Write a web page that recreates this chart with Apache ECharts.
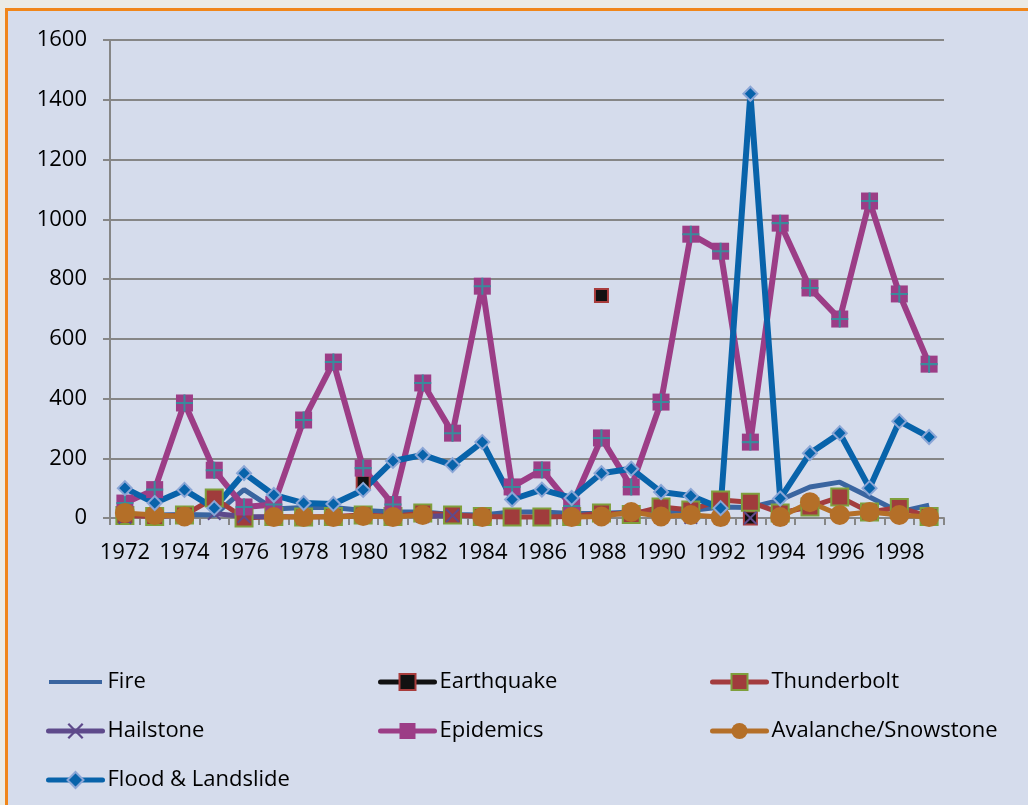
<!DOCTYPE html>
<html>
<head>
<meta charset="utf-8">
<script src="https://cdn.jsdelivr.net/npm/echarts@6/dist/echarts.min.js"></script>
<style>
  html, body { margin: 0; padding: 0; background: #ebebe5; }
  #chart { width: 1028px; height: 805px; }
</style>
</head>
<body>
<div id="chart"></div>
<script>
// years on the x axis
var years = ['1972','1973','1974','1975','1976','1977','1978','1979','1980','1981','1982','1983','1984','1985',
             '1986','1987','1988','1989','1990','1991','1992','1993','1994','1995','1996','1997','1998','1999']

// values (null = no point)
var fire        = [10,10,12,10,95,30,35,35,25,20,20,12,10,20,20,15,15,20,20,25,37,35,60,104,120,70,20,43]
var earthquake  = [null,null,null,null,null,null,null,null,120,null,null,null,null,null,
                   null,null,745,null,null,null,null,0,null,null,null,null,null,null]
var thunderbolt = [8,5,10,67,0,5,3,5,10,5,17,10,5,3,3,5,17,12,37,27,60,53,17,37,70,20,35,5]
var hailstone   = [2,null,null,15,5,3,null,null,null,null,5,8,null,null,
                   null,null,null,null,null,2,null,0,null,null,null,null,null,null]
var epidemics   = [50,95,385,160,37,45,328,522,167,45,452,284,776,104,161,40,268,104,388,950,893,254,987,770,666,1061,750,515]
var avalanche   = [17,10,5,null,null,3,3,3,7,3,10,null,3,null,null,3,5,20,5,10,3,null,3,53,10,20,10,3]
var flood       = [100,50,94,33,150,77,50,47,94,191,211,177,254,62,95,67,150,165,87,74,33,1420,65,217,284,100,324,271]

var yTicks = { min: 0, max: 1600, interval: 200 }

var chart = echarts.init(document.getElementById('chart'))

var font = 'Open Sans'
var legendText = { fontFamily: font, fontSize: 22, color: '#000', lineHeight: 26 }
var xShape = 'path://M0,1 L1,0 L5,4 L9,0 L10,1 L6,5 L10,9 L9,10 L5,6 L1,10 L0,9 L4,5 Z'
var plusShape = 'path://M4.4,0 H5.6 V4.4 H10 V5.6 H5.6 V10 H4.4 V5.6 H0 V4.4 H4.4 Z'
// plain bar for the legend of a series without markers (tiny specks keep the box tall)
var barIcon = 'path://M0,0 L0.1,0 L0.1,0.1 Z M0,8 L53,8 L53,12 L0,12 Z M0,20 L0.1,20 L0.1,19.9 Z'

function legend(left, names) {
  return {
    orient: 'vertical', left: left, top: 669, padding: 0,
    itemWidth: 54, itemHeight: 20, itemGap: 23,
    lineStyle: { width: 5, cap: 'round' },
    textStyle: legendText,
    data: names
  }
}

chart.setOption({
  backgroundColor: '#d5dcec',
  animation: false,
  graphic: [
    { type: 'rect', shape: { x: 0, y: 0, width: 1028, height: 9 }, style: { fill: '#ebebe5' }, silent: true },
    { type: 'rect', shape: { x: 0, y: 0, width: 5, height: 805 }, style: { fill: '#ebebe5' }, silent: true },
    { type: 'rect', shape: { x: 5, y: 8, width: 1023, height: 3 }, style: { fill: '#f0861a' }, silent: true },
    { type: 'rect', shape: { x: 5, y: 8, width: 3, height: 797 }, style: { fill: '#f0861a' }, silent: true }
  ],
  legend: [
    legend(46, [{ name: 'Fire', icon: barIcon }, 'Hailstone', 'Flood & Landslide']),
    legend(378, ['Earthquake', 'Epidemics']),
    legend(710, ['Thunderbolt', 'Avalanche/Snowstone'])
  ],
  grid: { left: 110, right: 84, top: 40, bottom: 287 },
  xAxis: {
    type: 'category',
    data: years,
    boundaryGap: true,
    axisLine: { lineStyle: { color: '#868686', width: 2 } },
    axisTick: { show: true, interval: 0, length: 7, lineStyle: { color: '#868686', width: 2 } },
    axisLabel: { interval: 1, color: '#000', fontFamily: font, fontSize: 22, margin: 24 },
    splitLine: { show: false }
  },
  yAxis: {
    type: 'value',
    min: yTicks.min, max: yTicks.max, interval: yTicks.interval,
    axisLine: { show: true, lineStyle: { color: '#868686', width: 2 } },
    axisTick: { show: true, length: 7, lineStyle: { color: '#868686', width: 2 } },
    axisLabel: { color: '#000', fontFamily: font, fontSize: 22, margin: 23,
                 formatter: function (v) { return String(v) } },
    splitLine: { lineStyle: { color: '#868686', width: 2 } }
  },
  series: [
    {
      name: 'Fire', type: 'line', data: fire,
      symbol: 'none',
      lineStyle: { color: '#3a65a0', width: 5 },
      itemStyle: { color: '#3a65a0' }
    },
    {
      name: 'Earthquake', type: 'line', data: earthquake,
      symbol: 'rect', symbolSize: 13, showAllSymbol: true,
      lineStyle: { color: '#111', width: 5 },
      itemStyle: { color: '#111', borderColor: '#a83c3c', borderWidth: 2 }
    },
    {
      name: 'Thunderbolt', type: 'line', data: thunderbolt,
      symbol: 'rect', symbolSize: 17, showAllSymbol: true,
      lineStyle: { color: '#a33c3e', width: 5 },
      itemStyle: { color: '#a03c3c', borderColor: '#7f9f3c', borderWidth: 2 }
    },
    {
      name: 'Hailstone', type: 'line', data: hailstone,
      symbol: xShape, symbolSize: 14, showAllSymbol: true,
      lineStyle: { color: '#5e4a8b', width: 5 },
      itemStyle: { color: '#5e4a8b' }
    },
    {
      name: 'Epidemics', type: 'line', data: epidemics,
      symbol: 'rect', symbolSize: 17, showAllSymbol: true,
      lineStyle: { color: '#9c3d86', width: 6 },
      itemStyle: { color: '#9c3d86' }
    },
    {
      name: 'epidemics-cross', type: 'line', data: epidemics,
      symbol: plusShape, symbolSize: 17, showAllSymbol: true,
      lineStyle: { width: 0, opacity: 0 },
      itemStyle: { color: '#3b8a9c' },
      tooltip: { show: false }
    },
    {
      name: 'Avalanche/Snowstone', type: 'line', data: avalanche,
      symbol: 'circle', symbolSize: 20, showAllSymbol: true,
      lineStyle: { color: '#b46f28', width: 5 },
      itemStyle: { color: '#b46f28' }
    },
    {
      name: 'Flood & Landslide', type: 'line', data: flood,
      symbol: 'diamond', symbolSize: 14, showAllSymbol: true,
      lineStyle: { color: '#0863aa', width: 6 },
      itemStyle: { color: '#0863aa', borderColor: '#8ba6d6', borderWidth: 2 }
    }
  ]
})
</script>
</body>
</html>
